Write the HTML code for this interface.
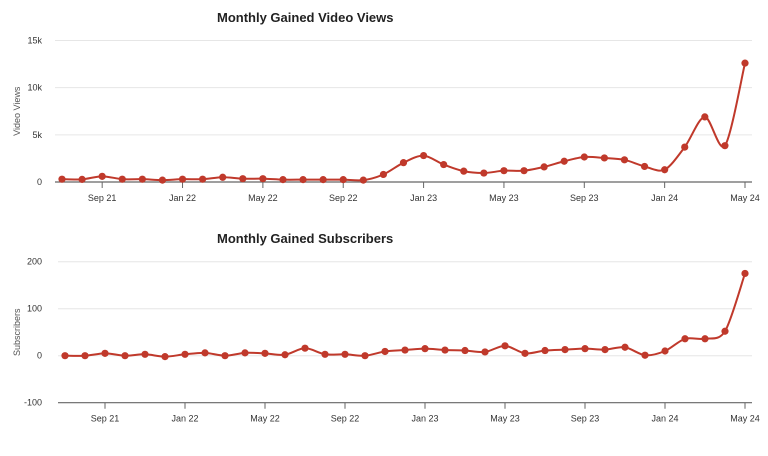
<!DOCTYPE html>
<html><head><meta charset="utf-8"><style>
body{margin:0;background:#fff;font-family:"Liberation Sans",sans-serif;}
svg text{font-family:"Liberation Sans",sans-serif;}
</style></head><body>
<svg id="c" width="768" height="451"></svg>
<script>
const months=["Jul 21","Aug 21","Sep 21","Oct 21","Nov 21","Dec 21","Jan 22","Feb 22","Mar 22","Apr 22","May 22","Jun 22","Jul 22","Aug 22","Sep 22","Oct 22","Nov 22","Dec 22","Jan 23","Feb 23","Mar 23","Apr 23","May 23","Jun 23","Jul 23","Aug 23","Sep 23","Oct 23","Nov 23","Dec 23","Jan 24","Feb 24","Mar 24","Apr 24","May 24"];
const views=[300,280,600,300,300,200,300,300,500,350,350,250,250,250,250,200,800,2050,2800,1850,1150,950,1200,1200,1600,2200,2650,2550,2350,1650,1300,3700,6900,3850,12600];
const subs=[0,0,5,0,3,-2,3,6,0,6,5,2,16,3,3,0,9,12,15,12,11,8,21,5,11,13,15,13,18,1,10,36,36,52,175];
const viewTicks=[0,5000,10000,15000];
const viewTickLabels=["0","5k","10k","15k"];
const subTicks=[-100,0,100,200];
const subTickLabels=["-100","0","100","200"];
const xTickIdx=[2,6,10,14,18,22,26,30,34];
const xTickLabels=["Sep 21","Jan 22","May 22","Sep 22","Jan 23","May 23","Sep 23","Jan 24","May 24"];

const svg=document.getElementById('c');
const NS='http://www.w3.org/2000/svg';
function mk(t,a,p){const e=document.createElementNS(NS,t);for(const k in a)e.setAttribute(k,a[k]);(p||svg).appendChild(e);return e;}

function chart(cfg){
  const g=mk('g',{});
  
  
  const x=i=>cfg.x0+(cfg.x1-cfg.x0)*i/(months.length-1);
  const y=v=>cfg.yb+(v-cfg.vmin)/(cfg.vmax-cfg.vmin)*(cfg.yt-cfg.yb);
  const t=mk('text',{x:cfg.tx,y:cfg.ty,'font-size':13,'font-weight':'bold',fill:'#222'},g);t.textContent=cfg.title;
  
  
  cfg.ticks.forEach((v,i)=>{
    if(v!==cfg.vmin){const l=mk('line',{x1:cfg.ax0,x2:752,y1:y(v),y2:y(v),stroke:'#e6e6e6'},g);
    
    }
    const tl=mk('text',{x:42,y:y(v)+3,'font-size':9,'text-anchor':'end',fill:'#333'},g);tl.textContent=cfg.tickLabels[i];
    
    
  });
  const yt=mk('text',{x:20,y:(cfg.yt+cfg.yb)/2,'font-size':9,fill:'#555','text-anchor':'middle',transform:`rotate(-90 20 ${(cfg.yt+cfg.yb)/2})`},g);yt.textContent=cfg.ylabel;
  
  
  const ay=y(cfg.axisV);
  const ax=mk('line',{x1:cfg.ax0,x2:752,y1:ay,y2:ay,stroke:'#666','stroke-width':1.2},g);
  
  
  xTickIdx.forEach((idx,i)=>{
    mk('line',{x1:x(idx),x2:x(idx),y1:ay,y2:ay+6,stroke:'#666'},g);
    const l=mk('text',{x:x(idx),y:ay+19,'font-size':9,'text-anchor':'middle',fill:'#333'},g);l.textContent=xTickLabels[i];
    
    
  });
  const pts=cfg.data.map((v,i)=>[x(i),y(v)]);
  let d=`M${pts[0][0]},${pts[0][1]}`;
  for(let i=0;i<pts.length-1;i++){
    const p0=pts[Math.max(0,i-1)],p1=pts[i],p2=pts[i+1],p3=pts[Math.min(pts.length-1,i+2)];
    const k=1/6*0.9;
    d+=` C${p1[0]+(p2[0]-p0[0])*k},${p1[1]+(p2[1]-p0[1])*k} ${p2[0]-(p3[0]-p1[0])*k},${p2[1]-(p3[1]-p1[1])*k} ${p2[0]},${p2[1]}`;
  }
  const ln=mk('path',{d:d,fill:'none',stroke:'#c0392b','stroke-width':2},g);
  
  
  pts.forEach(p=>{const c=mk('circle',{cx:p[0],cy:p[1],r:3.6,fill:'#c0392b'},g);
    
    });
}
chart({name:'video-views-chart',title:'Monthly Gained Video Views',tx:217,ty:22,ylabel:'Video Views',data:views,ticks:viewTicks,tickLabels:viewTickLabels,vmin:0,vmax:15000,yb:182,yt:40.5,axisV:0,x0:62,x1:745,ax0:55});
chart({name:'subscribers-chart',title:'Monthly Gained Subscribers',tx:217,ty:243,ylabel:'Subscribers',data:subs,ticks:subTicks,tickLabels:subTickLabels,vmin:-100,vmax:200,yb:402.7,yt:261.7,axisV:-100,x0:65,x1:745,ax0:58});
</script>
</body></html>
